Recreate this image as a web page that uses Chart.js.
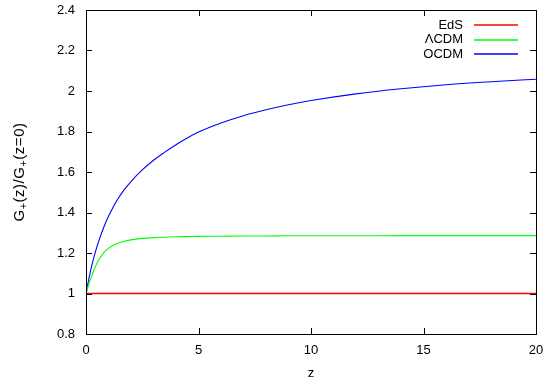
<!DOCTYPE html>
<html>
<head>
<meta charset="utf-8">
<script src="https://cdn.jsdelivr.net/npm/chart.js@4.4.1/dist/chart.umd.min.js"></script>
<style>
  html, body { margin: 0; padding: 0; background: #fff; }
  #wrap { width: 548px; height: 385px; }
</style>
</head>
<body>
<div id="wrap"><canvas id="growth-chart"></canvas></div>
<script>
// values
const zValues    = [0, 0.1, 0.2, 0.3, 0.4, 0.5, 0.6, 0.8, 1, 1.2, 1.4, 1.7, 2, 2.5, 3, 3.5, 4, 4.5, 5, 6, 7, 8, 9, 10, 12, 14, 16, 18, 20];
const edsValues  = [1, 1, 1, 1, 1, 1, 1, 1, 1, 1, 1, 1, 1, 1, 1, 1, 1, 1, 1, 1, 1, 1, 1, 1, 1, 1, 1, 1, 1];
const lcdmValues = [1, 1.037, 1.07, 1.1, 1.128, 1.152, 1.172, 1.203, 1.223, 1.237, 1.247, 1.258, 1.265, 1.272, 1.276, 1.278, 1.28, 1.281, 1.282, 1.283, 1.284, 1.284, 1.285, 1.285, 1.285, 1.286, 1.286, 1.286, 1.286];
const ocdmValues = [1, 1.058, 1.11, 1.157, 1.198, 1.236, 1.27, 1.33, 1.381, 1.425, 1.464, 1.513, 1.553, 1.61, 1.658, 1.698, 1.735, 1.768, 1.797, 1.842, 1.878, 1.907, 1.932, 1.953, 1.986, 2.011, 2.031, 2.046, 2.058];

const seriesLabels = ['EdS', '\u039BCDM', 'OCDM'];
const seriesColors = ['#ff0000', '#00ff00', '#0000ff'];
const seriesWidths = [1.4, 1.1, 1.1];

const xTicks = [0, 5, 10, 15, 20];
const yTicks = [0.8, 1, 1.2, 1.4, 1.6, 1.8, 2, 2.2, 2.4];

const FONT = 'Liberation Sans, Arial, Helvetica, sans-serif';
const FSIZE = 13;

function toPoints(ys) {
    return zValues.map((z, i) => ({ x: z, y: ys[i] }));
}

// gnuplot style frame with inward ticks, custom legend and axis titles
const gnuplotFrame = {
    id: 'gnuplotFrame',
    afterDraw(chart) {
        const ctx = chart.ctx;
        const a = chart.chartArea;
        const xs = chart.scales.x, ys = chart.scales.y;
        const tl = 6;
        ctx.save();
        ctx.strokeStyle = '#000';
        ctx.lineWidth = 1;
        ctx.beginPath();
        xTicks.forEach(v => {
            const px = Math.round(xs.getPixelForValue(v)) + 0.5;
            ctx.moveTo(px, a.bottom); ctx.lineTo(px, a.bottom - tl);
            ctx.moveTo(px, a.top); ctx.lineTo(px, a.top + tl);
        });
        yTicks.forEach(v => {
            const py = Math.round(ys.getPixelForValue(v)) + 0.5;
            ctx.moveTo(a.left, py); ctx.lineTo(a.left + tl, py);
            ctx.moveTo(a.right, py); ctx.lineTo(a.right - tl, py);
        });
        ctx.stroke();
        ctx.strokeRect(Math.round(a.left) + 0.5, Math.round(a.top) + 0.5,
            Math.round(a.right - a.left), Math.round(a.bottom - a.top));

        // legend
        ctx.font = FSIZE + 'px ' + FONT;
        ctx.textAlign = 'right';
        ctx.textBaseline = 'middle';
        seriesLabels.forEach((label, i) => {
            const y = 25 + i * 14.5;
            ctx.fillStyle = '#000';
            ctx.fillText(label, 463, y);
            ctx.beginPath();
            ctx.strokeStyle = seriesColors[i];
            ctx.lineWidth = 1.4;
            ctx.moveTo(474, Math.round(y));
            ctx.lineTo(518, Math.round(y));
            ctx.stroke();
        });

        // x title
        ctx.fillStyle = '#000';
        ctx.textAlign = 'center';
        ctx.fillText('z', (a.left + a.right) / 2, 373);

        // y title with subscripts
        const parts = [['G', 0], ['+', 1], ['(z)/G', 0], ['+', 1], ['(z=0)', 0]];
        ctx.translate(20, (a.top + a.bottom) / 2);
        ctx.rotate(-Math.PI / 2);
        ctx.textAlign = 'left';
        ctx.letterSpacing = '0.5px';
        let w = 0;
        parts.forEach(p => {
            ctx.font = (p[1] ? '11px ' : '15px ') + FONT;
            w += ctx.measureText(p[0]).width;
        });
        let x = -w / 2;
        parts.forEach(p => {
            ctx.font = (p[1] ? '11px ' : '15px ') + FONT;
            ctx.fillText(p[0], x, p[1] ? 4 : 0);
            x += ctx.measureText(p[0]).width;
        });
        ctx.restore();
    }
};

const growthCanvas = document.getElementById('growth-chart');
const growthData = {
    datasets: [edsValues, lcdmValues, ocdmValues].map((vals, i) => ({
        label: seriesLabels[i],
        data: toPoints(vals),
        borderColor: seriesColors[i],
        backgroundColor: seriesColors[i],
        borderWidth: seriesWidths[i]
    }))
};

const growthOptions = {
    responsive: true,
    maintainAspectRatio: false,
    animation: false,
    layout: { padding: { left: 0, right: 12, top: 10, bottom: 0 } },
    elements: {
        point: { radius: 0 },
        line: { cubicInterpolationMode: 'monotone', fill: false }
    },
    scales: {
        x: {
            type: 'linear',
            min: 0, max: 20,
            afterBuildTicks: s => { s.ticks = xTicks.map(v => ({ value: v })); },
            afterFit: s => { s.height = 51; s.paddingLeft = 0; s.paddingRight = 0; },
            grid: { display: false, drawTicks: false },
            border: { display: false },
            ticks: { color: '#000', padding: 9, maxRotation: 0, font: { family: FONT, size: FSIZE } }
        },
        y: {
            type: 'linear',
            min: 0.8, max: 2.4,
            afterBuildTicks: s => { s.ticks = yTicks.map(v => ({ value: v })); },
            afterFit: s => { s.width = 86; s.paddingTop = 0; s.paddingBottom = 0; },
            grid: { display: false, drawTicks: false },
            border: { display: false },
            ticks: {
                color: '#000', padding: 11, font: { family: FONT, size: FSIZE },
                callback: v => String(v)
            }
        }
    },
    plugins: {
        legend: { display: false },
        tooltip: { enabled: false }
    }
};

let growthChart = new Chart(growthCanvas, {
    type: 'line',
    data: growthData,
    options: growthOptions,
    plugins: [gnuplotFrame]
});
</script>
</body>
</html>
